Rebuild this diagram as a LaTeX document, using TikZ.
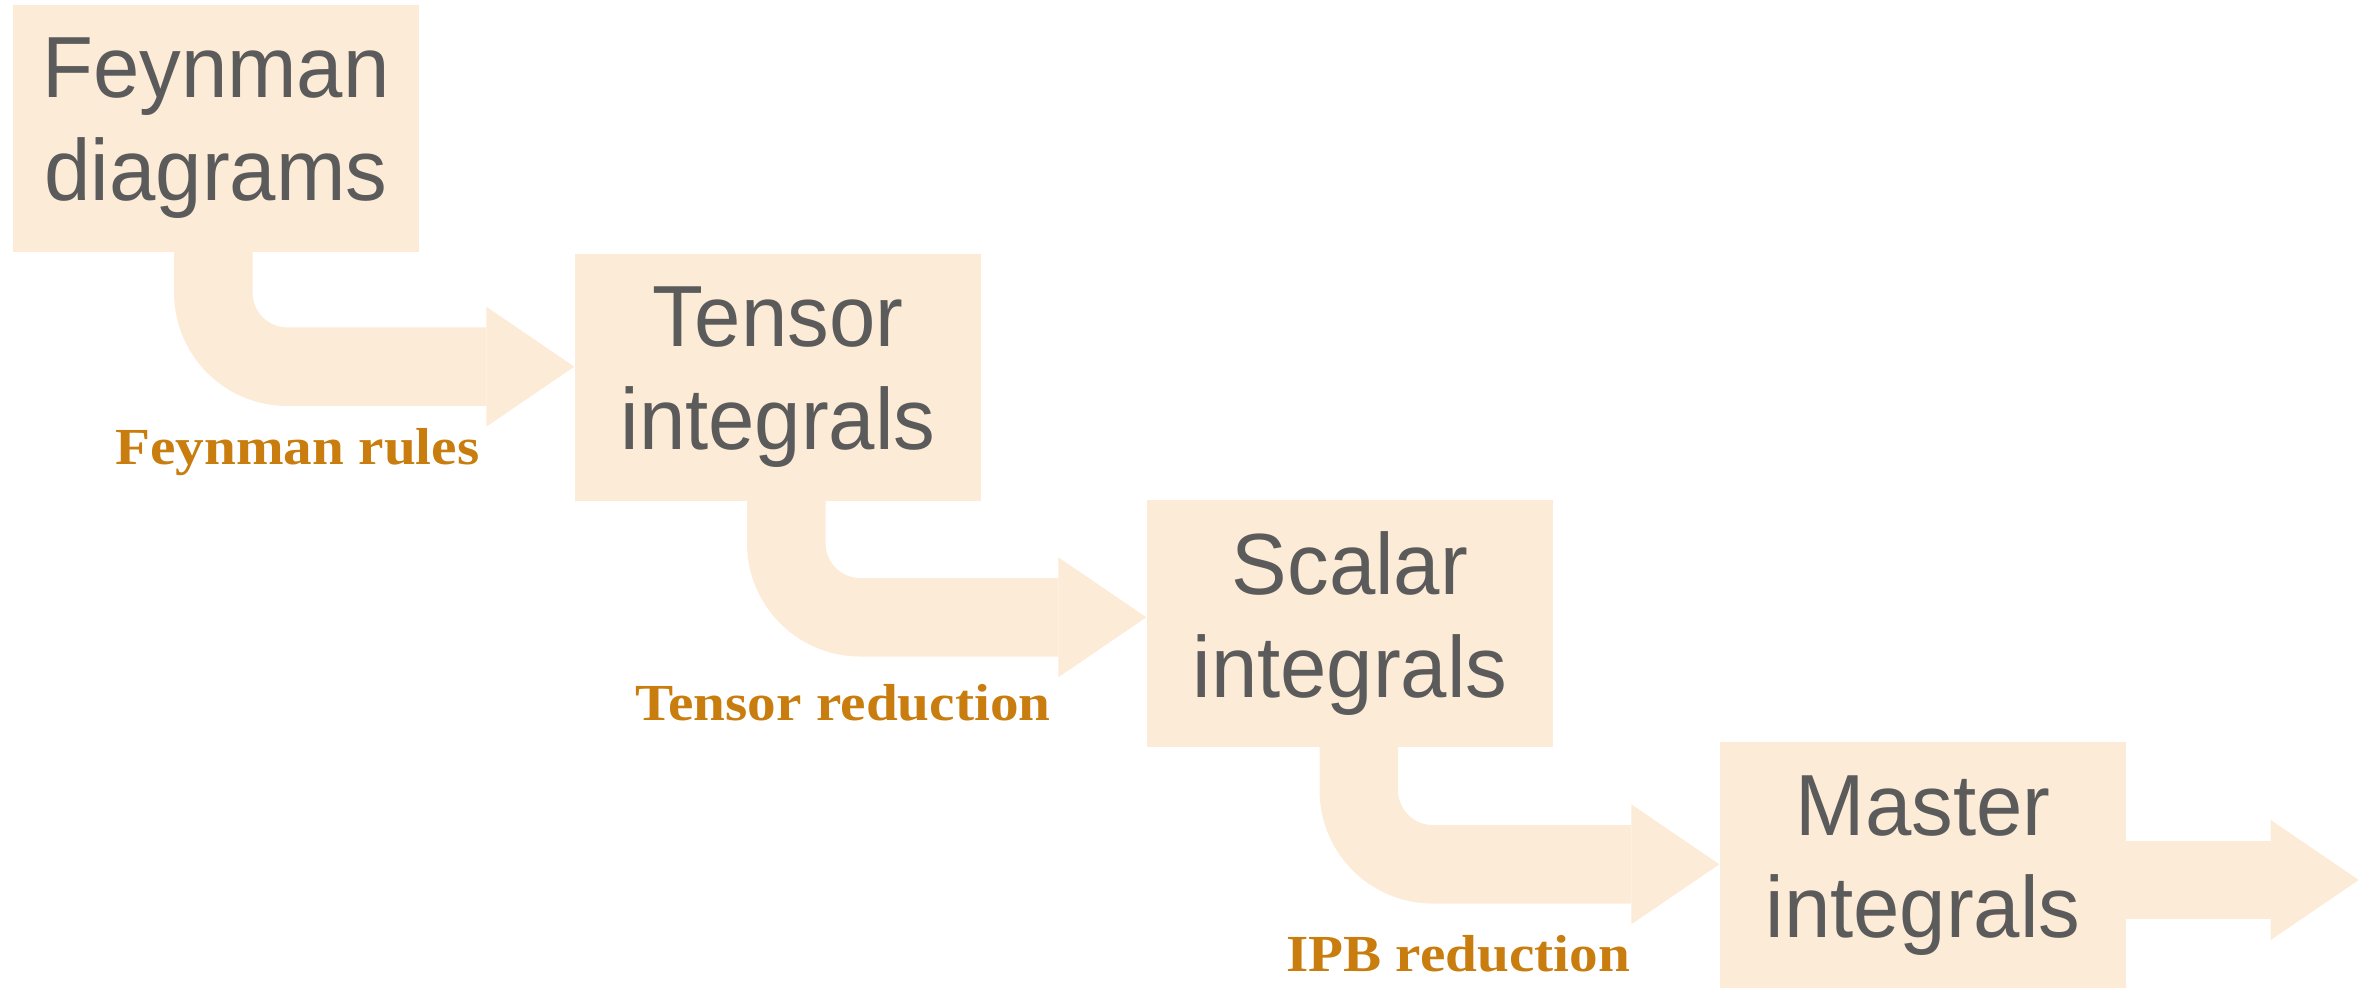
\documentclass[tikz,border=0pt]{standalone}
\usepackage{fontspec}
\usetikzlibrary{arrows.meta}
\newfontfamily\stagefont[FakeStretch=0.96]{Liberation Sans}
\newfontfamily\rulefont[FakeStretch=1.1]{Liberation Serif}
\definecolor{peach}{HTML}{FCEBD6}
\definecolor{stagegray}{HTML}{5B5B5B}
\definecolor{ruleorange}{HTML}{C87D0E}

\begin{document}
\begin{tikzpicture}[
    stage/.style={fill=peach, text=stagegray, inner sep=0pt,
      minimum width=4.06cm, minimum height=2.467cm, align=center,
      font=\stagefont\fontsize{24.7}{29.2}\selectfont},
    flow/.style={draw=peach, line width=0.785cm, rounded corners=0.74cm,
      -{Triangle[length=0.88cm, width=1.2cm, line width=0pt]}},
    rulelabel/.style={anchor=base, text=ruleorange,
      font=\rulefont\bfseries\fontsize{14.8}{17}\selectfont}
  ]
  \useasboundingbox (0,0) rectangle (23.63,-9.88);

  \node[stage] (fdiag) at (2.16,-1.283) {Feynman\\diagrams};
  \node[stage] (tint) at (7.78,-3.773) {Tensor\\integrals};
  \node[stage] (sint) at (13.50,-6.233) {Scalar\\integrals};
  \node[stage] (mint) at (19.23,-8.657) {Master\\integrals};

  \foreach \a/\b/\dx/\dy in {fdiag/tint/-0.027/0.106, tint/sint/0.083/0.06, sint/mint/0.088/0.014}{
    \draw[flow] ([xshift=\dx cm, yshift=0.03cm]\a.south) |- ([yshift=\dy cm]\b.west);
  }

  \coordinate (out) at (23.587,-8.80);
  \draw[flow] ([xshift=-0.03cm, yshift=-0.143cm]mint.east) -- (out);

  \node[rulelabel] (lrules) at (2.975,-4.65) {Feynman rules};
  \node[rulelabel] (ltensor) at (8.43,-7.207) {Tensor reduction};
  \node[rulelabel] (lipb) at (14.58,-9.717) {IPB reduction};
\end{tikzpicture}
\end{document}
